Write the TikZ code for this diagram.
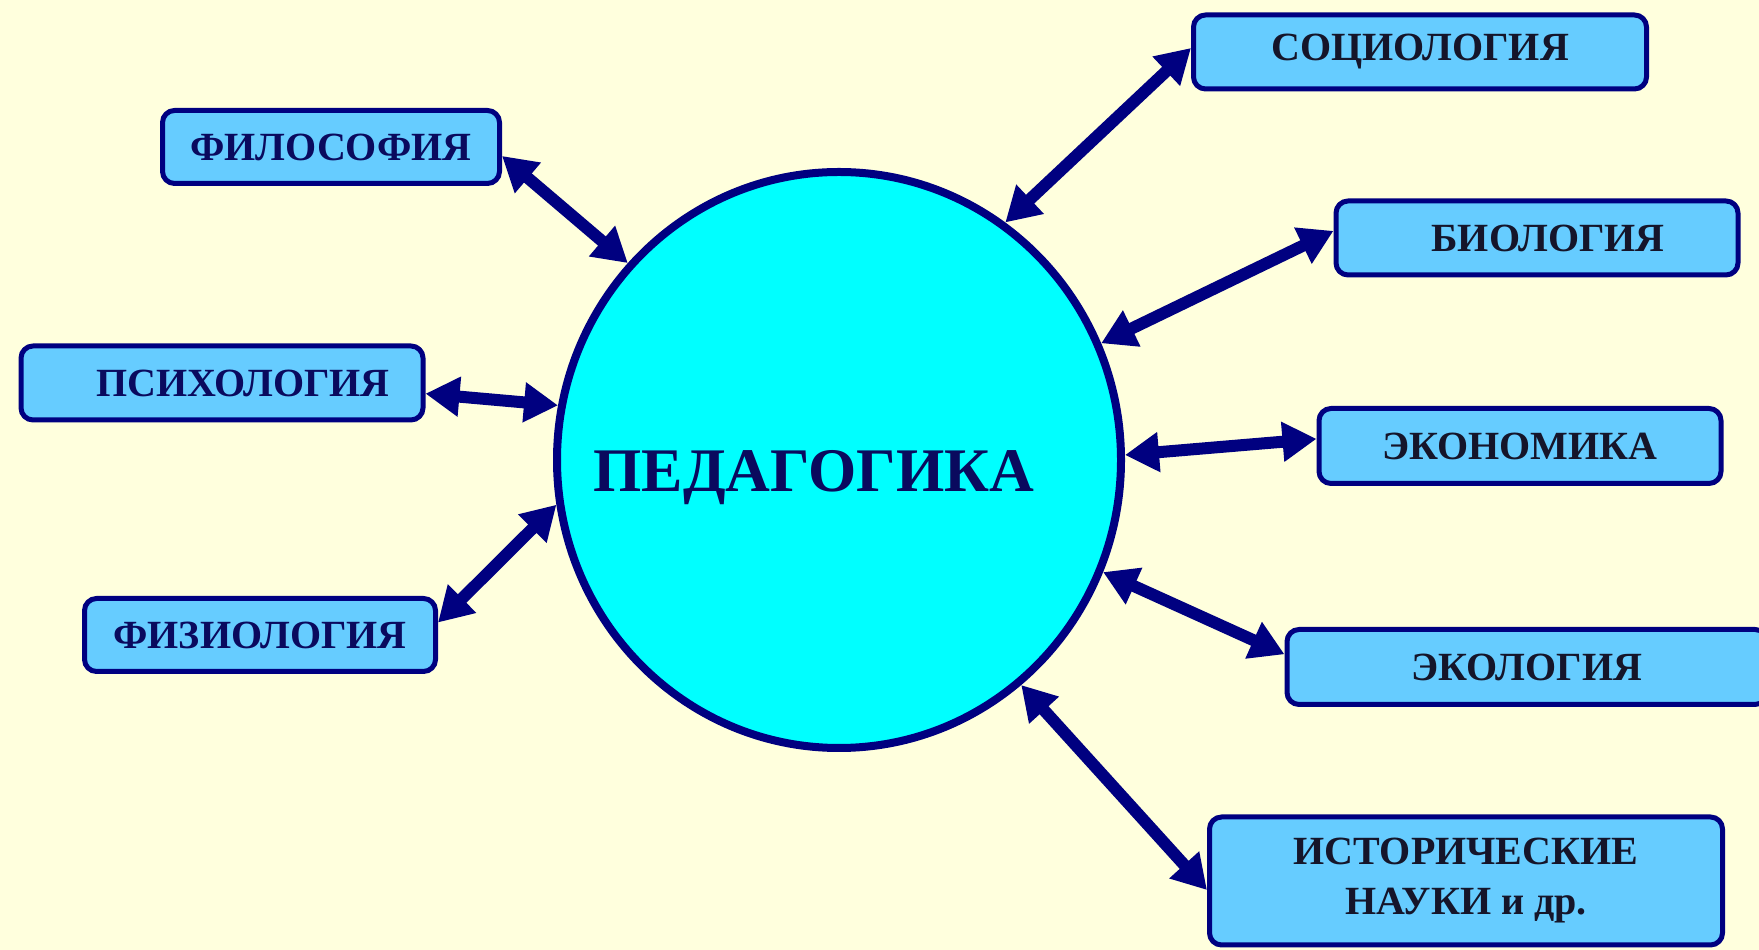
\documentclass[tikz,border=0pt]{standalone}
\usepackage{fontspec}
\setmainfont{Liberation Serif}
\usetikzlibrary{arrows.meta,shapes.geometric}
\definecolor{bgyellow}{HTML}{FFFFDD}
\definecolor{boxblue}{HTML}{66CCFF}
\definecolor{navy}{HTML}{000080}
\definecolor{pedcyan}{HTML}{00FFFF}
\definecolor{textnavy}{HTML}{0A0A5E}
\definecolor{textdark}{HTML}{15152A}
\tikzset{
  subject/.style={draw=navy,fill=boxblue,rounded corners=6bp,line width=2.5bp,inner sep=0pt,
    font=\bfseries\fontsize{20bp}{25bp}\selectfont,align=center},
  subjectl/.style={subject,text=textnavy},
  subjectr/.style={subject,text=textdark},
  core/.style={ellipse,draw=navy,fill=pedcyan,line width=4bp,inner sep=0pt},
  link/.style={navy,line width=6bp,<->},
}
\begin{document}
\begin{tikzpicture}[>={Triangle[length=17bp,width=19bp]},line join=bevel,]
\fill [bgyellow] (0bp,0bp) rectangle (879.5bp,475bp);
\useasboundingbox (0bp,0bp) rectangle (879.5bp,475bp);
%%
\node (ped) at (419.5bp,245bp) [core,minimum width=282bp,minimum height=288bp,
  label={[xshift=-12.5bp,yshift=-9bp,text=textnavy,font=\bfseries\fontsize{31bp}{36bp}\selectfont]center:ПЕДАГОГИКА}] {};
%
  \node (phil) at (165.5bp,401.5bp) [subjectl,minimum width=168.5bp,minimum height=36.5bp] {ФИЛОСОФИЯ};
  \node (psych) at (111bp,283.5bp) [subjectl,minimum width=201bp,minimum height=37bp] {\hspace*{21bp}ПСИХОЛОГИЯ};
  \node (physio) at (130bp,157.5bp) [subjectl,minimum width=175.5bp,minimum height=36.5bp] {ФИЗИОЛОГИЯ};
  \node (socio) at (710bp,449bp) [subjectr,minimum width=226.5bp,minimum height=37bp] {СОЦИОЛОГИЯ};
  \node (bio) at (768.5bp,356bp) [subjectr,minimum width=201bp,minimum height=37bp] {\hspace*{11bp}БИОЛОГИЯ};
  \node (econ) at (760bp,252bp) [subjectr,minimum width=201bp,minimum height=37.5bp] {ЭКОНОМИКА};
  \node (eco) at (763.5bp,141.5bp) [subjectr,minimum width=240bp,minimum height=37.5bp] {ЭКОЛОГИЯ};
  \node (hist) at (733bp,34.5bp) [subjectr,minimum width=256.5bp,minimum height=64bp] {ИСТОРИЧЕСКИЕ\\НАУКИ и др.};
%
  \draw [link] (ped.137) -- (phil.-3);
  \draw [link] (ped.169) -- (psych.-3);
  \draw [link] (ped.189) -- (physio.4);
  \draw [link] (ped.55.5) -- (socio.179);
  \draw [link] (ped.24) -- (bio.178.6);
  \draw [link] (ped.1.6) -- (econ.178);
  \draw [link] (ped.-23.8) -- (eco.177.6);
  \draw [link] (ped.-51.6) -- (hist.182.5);
%
\end{tikzpicture}
\end{document}
